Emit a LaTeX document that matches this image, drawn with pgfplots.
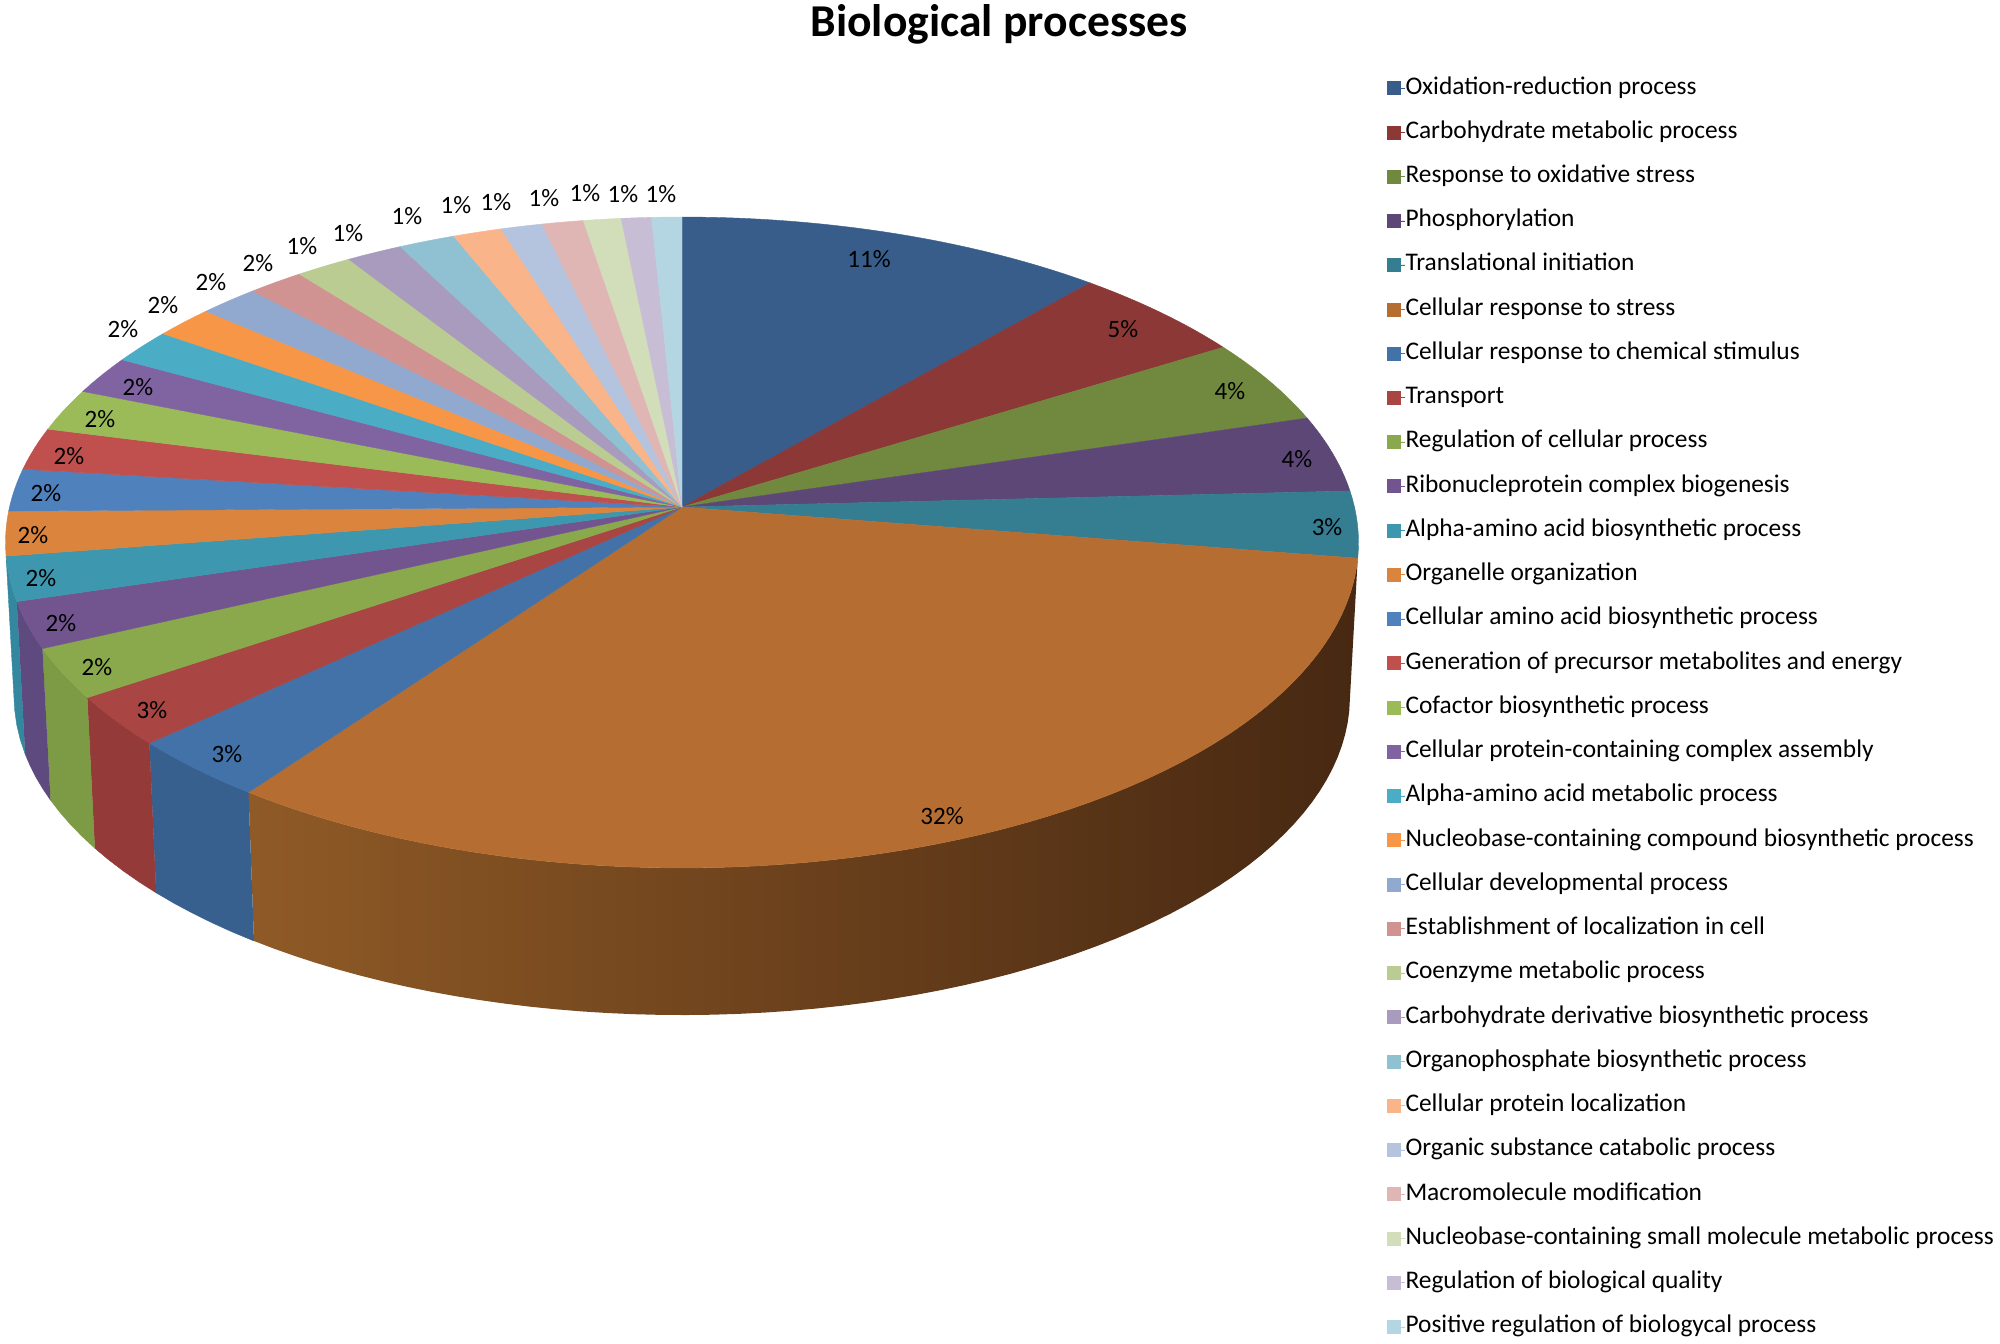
\documentclass[border=0pt]{standalone}
\usepackage{fontspec}
\setmainfont{Carlito}
\usepackage{pgfplots}
\usepackage{pgfplotstable}
\pgfplotsset{compat=1.18}
% share = size of slice in percent; pct = printed label
\pgfplotstableread[col sep=comma]{
share,pct,lx,ly,top,side,name
11.4,11,869,259,385D8A,385D8A,Oxidation-reduction process
4.8,5,1123,329,8C3836,8C3836,Carbohydrate metabolic  process
4.2,4,1230,391,71893F,71893F,Response to oxidative stress
3.8,4,1297,459,5C4776,5C4776,Phosphorylation
3.3,3,1327,527,357D91,357D91,Translational initiation
32.5,32,942,816,B66D31,7A4A1E,Cellular response to stress
3.1,3,227,754,4272A8,37608F,Cellular response to chemical stimulus
2.5,3,152,710,A94542,943A38,Transport
2.5,2,97,667,8AA84C,7D9A44,Regulation of cellular process
2.3,2,61,623,72558F,5F4A80,Ribonucleprotein complex biogenesis
2.2,2,41,578,3D97AF,33879E,Alpha-amino acid biosynthetic  process
2.2,2,33,535,DB843D,DB843D,Organelle organization
2.1,2,46,493,4F81BD,4F81BD,Cellular amino acid biosynthetic  process
2.1,2,69,456,C0504D,C0504D,Generation of precursor metabolites  and energy
2.1,2,100,419,9BBB59,9BBB59,Cofactor biosynthetic process
1.9,2,138,387,8064A2,8064A2,Cellular protein-containing complex assembly
1.7,2,123,329,4BACC6,4BACC6,Alpha-amino acid metabolic  process
1.6,2,163,305,F79646,F79646,Nucleobase-containing compound biosynthetic process
1.6,2,211,282,92A9CF,92A9CF,Cellular developmental  process
1.5,2,258,263,D09392,D09392,Establishment of localization in cell
1.5,1,302,246,BACC92,BACC92,Coenzyme metabolic process
1.5,1,348,233,A99BBD,A99BBD,Carbohydrate derivative  biosynthetic process
1.5,1,407,216,8FC1D2,8FC1D2,Organophosphate biosynthetic process
1.3,1,456,205,F9B48A,F9B48A,Cellular protein localization
1.1,1,496,202,B4C3DE,B4C3DE,Organic  substance catabolic process
1.1,1,544,198,E0B6B5,E0B6B5,Macromolecule modification
1.0,1,585,193,D2DDB9,D2DDB9,Nucleobase-containing small  molecule metabolic process
0.8,1,623,194,C7BDD5,C7BDD5,Regulation of biological quality
0.8,1,661,194,B3D6E2,B3D6E2,Positive regulation of biologycal process
}\slices
\pgfplotstablegetrowsof{\slices}
\pgfmathtruncatemacro\lastrow{\pgfplotsretval-1}
\definecolor{brownA}{HTML}{8F5A26}
\definecolor{brownB}{HTML}{5C3617}
\definecolor{brownC}{HTML}{472812}
\begin{document}
\begin{tikzpicture}
\begin{axis}[
  scale only axis, width=1000pt, height=671.5pt,
  xmin=0, xmax=2000, ymin=0, ymax=1343, y dir=reverse,
  hide axis, clip=false,
  declare function={
    px(\t)=682+672.5*sin(\t)/(1+0.109*cos(\t));
    py(\t)=507-321.6*cos(\t)/(1+0.109*cos(\t));
    qx(\t)=682+664*sin(\t)/(1+0.109*cos(\t));
    qy(\t)=661.5-315*cos(\t)/(1+0.109*cos(\t));
    sx(\s,\p,\q,\e)=(\s<=1+0.5*\e) ? px(\p+(\q-\p)*\s) : qx(\q-(\q-\p)*(\s-1-\e)/(1-\e));
    sy(\s,\p,\q,\e)=(\s<=1+0.5*\e) ? py(\p+(\q-\p)*\s) : qy(\q-(\q-\p)*(\s-1-\e)/(1-\e));
  },
  legend cell align=left,
  legend image code/.code={\path[#1] (0pt,-3.25pt) rectangle (6.5pt,3.25pt);\path (0pt,0pt) -- (9.05pt,0pt);},
  legend style={
    draw=none, fill=none, at={(axis cs:1387,76)}, anchor=north west,
    inner sep=0pt, outer sep=0pt, row sep=10.12pt,
    font=\fontsize{12.7}{12.7}\selectfont,
    nodes={inner sep=0pt, text height=9pt, text depth=3pt},
  },
]
\path (axis cs:0,0) rectangle (axis cs:2000,1343);
% side walls: slices 6 to 11 (rows 5 to 10) face the viewer
\def\cum{0}
\pgfplotsforeachungrouped \i in {0,...,\lastrow}{%
  \pgfplotstablegetelem{\i}{share}\of\slices \let\share\pgfplotsretval
  \pgfplotstablegetelem{\i}{top}\of\slices \let\hextop\pgfplotsretval
  \pgfplotstablegetelem{\i}{side}\of\slices \let\hexside\pgfplotsretval
  \definecolor{top\i}{HTML}{\hextop}%
  \definecolor{side\i}{HTML}{\hexside}%
  \pgfmathsetmacro\ta{\cum*3.6}%
  \pgfmathsetmacro\tb{(\cum+\share)*3.6}%
  \pgfmathsetmacro\newcum{\cum+\share}%
  \global\let\cum\newcum
  \pgfmathtruncatemacro\m{max(3,ceil((\tb-\ta)/2))}%
  \pgfmathtruncatemacro\n{2*\m+1}%
  \pgfmathsetmacro\stp{1/\m}%
  \ifnum\i=5
    \edef\tmp{\noexpand\addplot[forget plot, draw=none, left color=brownA, middle color=brownB, right color=brownC, domain=0:2, samples=\n] ({sx(x,\ta,\tb,\stp)},{sy(x,\ta,\tb,\stp)});}%
    \tmp
  \else\ifnum\i>5 \ifnum\i<11
    \edef\tmp{\noexpand\addplot[forget plot, draw=side\i, line width=0.2pt, fill=side\i, domain=0:2, samples=\n] ({sx(x,\ta,\tb,\stp)},{sy(x,\ta,\tb,\stp)});}%
    \tmp
  \fi\fi\fi
}
% top faces with legend
\def\cum{0}
\pgfplotsforeachungrouped \i in {0,...,\lastrow}{%
  \pgfplotstablegetelem{\i}{share}\of\slices \let\share\pgfplotsretval
  \pgfplotstablegetelem{\i}{name}\of\slices \let\nm\pgfplotsretval
  \pgfmathsetmacro\ta{\cum*3.6}%
  \pgfmathsetmacro\tb{(\cum+\share)*3.6}%
  \pgfmathsetmacro\newcum{\cum+\share}%
  \global\let\cum\newcum
  \pgfmathtruncatemacro\n{max(3,ceil((\tb-\ta)/1.5))+1}%
  \edef\tmp{\noexpand\addplot[draw=top\i, line width=0.2pt, fill=top\i, domain=\ta:\tb, samples=\n] ({px(x)},{py(x)}) -- (axis cs:682,507) -- cycle;
    \noexpand\addlegendentry{\nm}}%
  \tmp
}
% percentage labels
\pgfplotsforeachungrouped \i in {0,...,\lastrow}{%
  \pgfplotstablegetelem{\i}{pct}\of\slices \let\pc\pgfplotsretval
  \pgfplotstablegetelem{\i}{lx}\of\slices \let\lx\pgfplotsretval
  \pgfplotstablegetelem{\i}{ly}\of\slices \let\ly\pgfplotsretval
  \edef\tmp{\noexpand\node[font=\noexpand\fontsize{12.5}{12.5}\noexpand\selectfont, text=black, inner sep=0pt] at (axis cs:\lx,\ly) {\pc\noexpand\%};}%
  \tmp
}
\node[font=\fontsize{22.8}{22.8}\selectfont\bfseries, inner sep=0pt] at (axis cs:999,24) {Biological processes};
\end{axis}
\end{tikzpicture}
\end{document}
